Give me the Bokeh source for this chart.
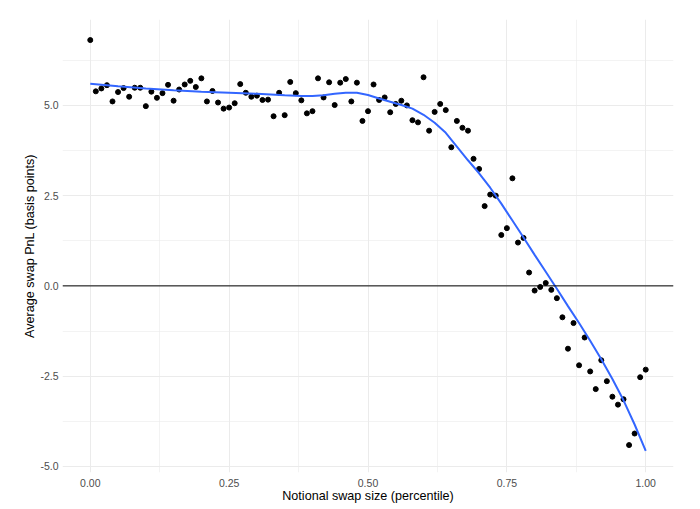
from bokeh.plotting import figure
from bokeh.models import Range1d, FixedTicker, Span, ColumnDataSource
from bokeh.embed import file_html
from bokeh.resources import INLINE

# Observed points (x = notional percentile, y = avg PnL in bp)
pct = [i / 100 for i in range(101)]
pnl = [6.81, 5.39, 5.47, 5.56, 5.11, 5.37, 5.48, 5.24, 5.49, 5.49,
       4.98, 5.38, 5.21, 5.34, 5.57, 5.13, 5.44, 5.58, 5.68, 5.51,
       5.75, 5.11, 5.40, 5.08, 4.91, 4.94, 5.06, 5.59, 5.35, 5.24,
       5.27, 5.15, 5.16, 4.70, 5.35, 4.73, 5.65, 5.34, 5.14, 4.78,
       4.84, 5.75, 5.22, 5.64, 5.01, 5.63, 5.73, 5.11, 5.63, 4.57,
       4.84, 5.58, 5.15, 5.22, 4.81, 5.04, 5.13, 5.00, 4.59, 4.53,
       5.78, 4.30, 4.82, 5.04, 4.87, 3.84, 4.57, 4.38, 4.30, 3.52,
       3.24, 2.21, 2.53, 2.50, 1.41, 1.60, 2.98, 1.20, 1.33, 0.37,
       -0.13, -0.03, 0.08, -0.11, -0.34, -0.87, -1.74, -1.03, -2.20, -1.43,
       -2.37, -2.86, -2.06, -2.64, -3.07, -3.29, -3.14, -4.41, -4.09, -2.53,
       -2.32]

# Smooth (loess) curve
smooth_x = [0.00, 0.05, 0.10, 0.15, 0.20, 0.25, 0.30, 0.35, 0.38, 0.40,
            0.42, 0.44, 0.46, 0.48, 0.50, 0.52, 0.54, 0.56, 0.58, 0.60,
            0.62, 0.64, 0.66, 0.68, 0.70, 0.72, 0.74, 0.76, 0.78, 0.80,
            0.82, 0.84, 0.86, 0.88, 0.90, 0.92, 0.94, 0.96, 0.98, 1.00]
smooth_y = [5.60, 5.53, 5.47, 5.42, 5.38, 5.35, 5.32, 5.28, 5.26, 5.26,
            5.28, 5.32, 5.35, 5.35, 5.29, 5.19, 5.10, 5.01, 4.91, 4.74,
            4.52, 4.24, 3.86, 3.48, 3.12, 2.72, 2.28, 1.81, 1.34, 0.86,
            0.39, -0.08, -0.56, -1.03, -1.52, -2.03, -2.58, -3.17, -3.84, -4.57]

x_major = [0.0, 0.25, 0.5, 0.75, 1.0]
x_minor = [0.125, 0.375, 0.625, 0.875]
x_labels = {0.0: "0.00", 0.25: "0.25", 0.5: "0.50", 0.75: "0.75", 1.0: "1.00"}
y_major = [-5.0, -2.5, 0.0, 2.5, 5.0]
y_minor = [-3.75, -1.25, 1.25, 3.75, 6.25]
y_labels = {-5.0: "-5.0", -2.5: "-2.5", 0.0: "0.0", 2.5: "2.5", 5.0: "5.0"}

FONT = "Liberation Sans"

p = figure(width=700, height=509, output_backend="svg", toolbar_location=None,
           x_range=Range1d(-0.05, 1.05), y_range=Range1d(-5.17, 7.38),
           min_border_left=62, min_border_right=27, min_border_top=19,
           min_border_bottom=37)
p.outline_line_color = None
p.background_fill_color = "white"
p.border_fill_color = "white"

p.xaxis.ticker = FixedTicker(ticks=x_major, minor_ticks=x_minor)
p.yaxis.ticker = FixedTicker(ticks=y_major, minor_ticks=y_minor)
p.xaxis.major_label_overrides = x_labels
p.yaxis.major_label_overrides = y_labels

for ax in (p.xaxis, p.yaxis):
    ax.axis_line_color = None
    ax.major_tick_line_color = None
    ax.minor_tick_line_color = None
    ax.major_tick_out = 0
    ax.major_tick_in = 0
    ax.minor_tick_out = 0
    ax.minor_tick_in = 0
    ax.major_label_text_font = FONT
    ax.major_label_text_font_size = "10.5px"
    ax.major_label_text_color = "#4D4D4D"
    ax.axis_label_text_font = FONT
    ax.axis_label_text_font_size = "12.6px"
    ax.axis_label_text_font_style = "normal"
    ax.axis_label_text_color = "black"

p.xaxis.major_label_standoff = 6
p.yaxis.major_label_standoff = 4
p.xaxis.axis_label_standoff = -1
p.yaxis.axis_label_standoff = 0
p.xaxis.axis_label = "Notional swap size (percentile)"
p.yaxis.axis_label = "Average swap PnL (basis points)"

for g in (p.xgrid, p.ygrid):
    g.grid_line_color = "#EBEBEB"
    g.grid_line_width = 1
    g.minor_grid_line_color = "#EBEBEB"
    g.minor_grid_line_width = 0.6

p.add_layout(Span(location=0, dimension="width", line_color="black", line_width=1))

pts = ColumnDataSource(dict(x=pct, y=pnl))
p.scatter("x", "y", source=pts, size=5, color="black")

sm = ColumnDataSource(dict(x=smooth_x, y=smooth_y))
p.line("x", "y", source=sm, line_color="#3366FF", line_width=2)

open("out.html", "w").write(file_html(p, INLINE))
